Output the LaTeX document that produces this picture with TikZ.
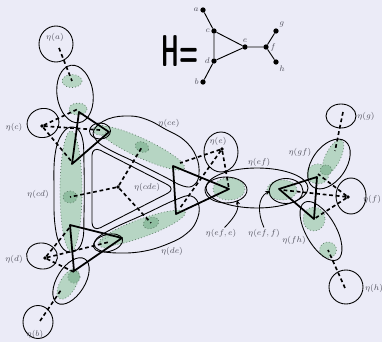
\documentclass[tikz,border=0pt]{standalone}
\usetikzlibrary{arrows.meta}
\definecolor{bgcol}{RGB}{235,235,247}
\definecolor{blobcol}{RGB}{182,213,195}
\definecolor{blobdark}{RGB}{143,189,160}
\definecolor{blobline}{RGB}{80,110,90}
\definecolor{lblcol}{RGB}{80,80,92}
\tikzset{
  blob/.style={fill=blobcol,draw=blobline,dotted,line width=0.6pt},
  darkblob/.style={blob,fill=blobdark},
  eta/.style={draw=black,line width=0.75pt},
  route/.style={line width=1.4pt,dash pattern=on 3.2pt off 2.4pt},
  tri/.style={line width=1.5pt,line join=round},
  lbl/.style={font=\scriptsize,text=lblcol,inner sep=1pt},
  vtx/.style={circle,fill=black,inner sep=0pt,minimum size=4.5pt},
  hub/.style={circle,fill=black,inner sep=0pt,minimum size=3pt},
}
\begin{document}
\begin{tikzpicture}[x=0.03cm,y=-0.03cm]
\fill[bgcol] (0,0) rectangle (382,342);
\useasboundingbox (0,0) rectangle (382,342);

% the graph H
\node (hname) at (180,51) {\fontsize{38}{38}\selectfont\bfseries\sffamily\scalebox{0.5}[1]{H=}};
\node[vtx,label={[lbl]left:$a$}] (a) at (203,10) {};
\node[vtx,label={[lbl]left:$c$}] (c) at (214,31) {};
\node[vtx,label={[lbl]left:$d$}] (d) at (214,61) {};
\node[vtx,label={[lbl]left:$b$}] (b) at (203,82) {};
\node[vtx,label={[lbl]above:$e$}] (e) at (245,47) {};
\node[vtx,label={[lbl]right:$f$}] (f) at (266,47) {};
\node[vtx,label={[lbl]above right:$g$}] (g) at (276,31) {};
\node[vtx,label={[lbl]below right:$h$}] (h) at (276,62) {};
\draw[line width=0.8pt] (a)--(c)--(d)--(b) (c)--(e)--(d) (e)--(f)--(g) (f)--(h);

% model of H
\coordinate (ac1) at (72,81);
\coordinate (ac2) at (78,109);
\coordinate (ce1) at (100,130);
\coordinate (ce0) at (142,147);
\coordinate (ce2) at (180,163);
\coordinate (cd1) at (72,162);
\coordinate (cd0) at (70,197);
\coordinate (cd2) at (70,227);
\coordinate (de1) at (109,242);
\coordinate (de0) at (151,223);
\coordinate (de2) at (180,208);
\coordinate (bd1) at (74,272);
\coordinate (bd2) at (61,290);
\coordinate (ef1) at (229,189);
\coordinate (ef2) at (282,190);
\coordinate (gf1) at (318,174);
\coordinate (gf2) at (335,151);
\coordinate (fh1) at (314,219);
\coordinate (fh2) at (328,250);

\draw[blob] (ac1) ellipse (10 and 6.5);
\draw[blob] (ac2) ellipse (9 and 6);
\draw[blob] (71,191) ellipse (11 and 60);
\draw[blob] (141,148) circle[x radius=48,y radius=9.5,rotate=-25];
\draw[blob] (142,228) circle[x radius=46,y radius=9,rotate=20];
\draw[blob] (ce1) ellipse (7 and 5);
\draw[blob] (de1) circle[x radius=10,y radius=5,rotate=20];
\draw[darkblob] (cd0) ellipse (7 and 6);
\draw[darkblob] (ce0) circle[x radius=7,y radius=5,rotate=-25];
\draw[darkblob] (de0) circle[x radius=8,y radius=5.5,rotate=20];
\draw[blob] (68,284) circle[x radius=17,y radius=8,rotate=60];
\draw[darkblob] (74,277) ellipse (6 and 6);
\draw[blob] (ef1) ellipse (16 and 11);
\draw[blob] (ef2) ellipse (15 and 10);
\draw[blob] (333,157) circle[x radius=19,y radius=7.5,rotate=64];
\draw[blob] (gf1) ellipse (11 and 10);
\draw[darkblob] (326,170) ellipse (6 and 5);
\draw[blob] (fh1) ellipse (11 and 12);
\draw[blob] (fh2) ellipse (8.5 and 8);

\draw[eta] (56,44) ellipse (17 and 18);
\draw[eta] (75,94) circle[x radius=18,y radius=29,rotate=8];
\draw[eta] (43,123) circle[x radius=16,y radius=14.5,rotate=15];
\draw[eta] (42,256) circle[x radius=15.5,y radius=13,rotate=-8];
\draw[eta] (38,322) ellipse (15 and 16.5);
\draw[eta] (71,281) circle[x radius=26,y radius=14,rotate=58];
\draw[eta] plot[smooth cycle,tension=0.7] coordinates {(73,127) (82,137) (84,165) (84,215) (82,242) (72,252) (61,246) (55,225) (54,190) (55,155) (62,134)};
\draw[eta,rounded corners=8pt] (92,146) -- (176,189) -- (92,232) -- cycle;
\draw[eta] plot[smooth cycle,tension=0.7] coordinates {(94,130) (108,119) (130,116) (148,120) (165,129) (184,140) (196,156) (199,174) (194,185) (183,186) (163,176) (135,162) (110,150) (97,141)};
\draw[eta] plot[smooth cycle,tension=0.7] coordinates {(95,241) (110,230) (145,214) (175,200) (191,196) (199,206) (196,222) (186,234) (170,243) (145,251) (118,253) (99,250)};
\draw[eta] (100,131) ellipse (10.5 and 8);
\draw[eta] (108,243) circle[x radius=15,y radius=8.5,rotate=15];
\draw[eta] (221,152) ellipse (17 and 20);
\draw[eta] (257,188) ellipse (51 and 20);
\draw[eta] (226,190) ellipse (21 and 13);
\draw[eta] (286,191) ellipse (17 and 12.5);
\draw[eta] (341,116) ellipse (15 and 12);
\draw[eta] (329,164) circle[x radius=28,y radius=17,rotate=55];
\draw[eta] (351,196) ellipse (15 and 18);
\draw[eta] (321,231) circle[x radius=33,y radius=15,rotate=-60];
\draw[eta] (346,287) ellipse (17 and 17);

\node[hub] (pc) at (42,126) {};
\node[hub] (pd) at (45,258) {};
\node[hub] (pe) at (222,149) {};
\node[hub] (pf) at (348,197) {};
\node[hub] (pcde) at (118,187) {};
\coordinate (pa) at (59,48);
\coordinate (pb) at (40,321);
\coordinate (pg) at (343,112);
\coordinate (ph) at (345,288);
\draw[route] (pa)--(ac1) (pc)--(ac2) (pc)--(ce1) (pc)--(cd1)
  (pd)--(cd2) (pd)--(de1) (pd)--(bd1) (pb)--(bd2)
  (pcde)--(cd0) (pcde)--(ce0) (pcde)--(de0)
  (pe)--(ce2) (pe)--(de2) (pe)--(ef1)
  (pf)--(gf1) (pf)--(ef2) (pf)--(fh1) (pg)--(gf2) (ph)--(fh2);

\draw[tri] (79,112)--(109,132)--(72,164)--cycle;
\draw[tri] (70,225)--(122,238)--(74,271)--cycle;
\draw[tri] (173,166)--(229,189)--(176,214)--cycle;
\draw[tri] (317,177)--(279,189)--(314,219)--cycle;

\node[lbl] (la) at (55,37) {$\eta(a)$};
\node[lbl] (lc) at (14,127) {$\eta(c)$};
\node[lbl] (lce) at (169,123) {$\eta(ce)$};
\node[lbl] (le) at (218,141) {$\eta(e)$};
\node[lbl] (lef) at (259,162) {$\eta(ef)$};
\node[lbl] (lg) at (366,116) {$\eta(g)$};
\node[lbl] (lgf) at (300,152) {$\eta(gf)$};
\node[lbl] (lcd) at (38,194) {$\eta(cd)$};
\node[lbl] (lcde) at (147,187) {$\eta(cde)$};
\node[lbl] (lf) at (372,199) {$\eta(f)$};
\node[lbl] (ld) at (14,259) {$\eta(d)$};
\node[lbl] (lde) at (172,251) {$\eta(de)$};
\node[lbl] (lefe) at (221,233) {$\eta(ef,e)$};
\node[lbl] (leff) at (264,233) {$\eta(ef,f)$};
\node[lbl] (lfh) at (294,240) {$\eta(fh)$};
\node[lbl] (lh) at (374,288) {$\eta(h)$};
\node[lbl] (lb) at (35,334) {$\eta(b)$};
\coordinate (efetip) at (237,200);
\coordinate (efftip) at (270,191);
\draw[-{Stealth[length=4pt,width=3.5pt]},line width=0.7pt] ([xshift=3pt]lefe.north) .. controls (236,216) and (239,209) .. (efetip);
\draw[-{Stealth[length=4pt,width=3.5pt]},line width=0.7pt] (leff.north) .. controls (257,212) and (258,197) .. (efftip);
\end{tikzpicture}
\end{document}
